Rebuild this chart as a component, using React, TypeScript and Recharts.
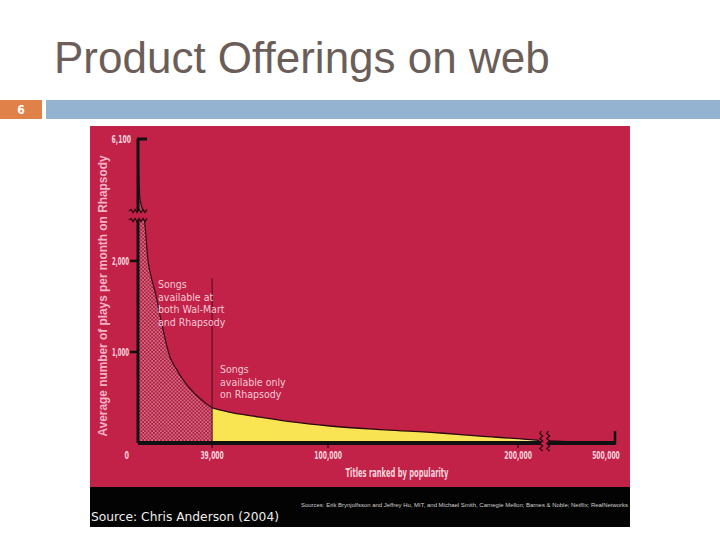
import React from 'react';
import { ComposedChart, Area, XAxis, YAxis, ReferenceLine, ReferenceDot } from 'recharts';

// ---- data (ranks in thousands of titles, plays per month) ----
const bothRanksK = [0, 0.4, 1, 2, 3.5, 5.3, 7, 9, 12.6, 16.8, 20, 23, 29, 34, 39];
const bothPlays = [6100, 4300, 3100, 2650, 2430, 2000, 1820, 1660, 1300, 945, 820, 715, 560, 465, 385];
const onlyRanksK = [39, 50, 64, 80, 101, 130, 159, 180, 200, 211, 214, 222, 300, 400, 500];
const onlyPlays: (number | null)[] = [385, 330, 285, 235, 187, 145, 110, 75, 48, 28, null, 24, 16, 9, 3];
const xTickRanksK = [39, 100, 200, 500];
const xTickLabels = ['39,000', '100,000', '200,000', '500,000'];
const yTickPlays = [0, 1000, 2000, 6100];
const yTickLabels = ['0', '1,000', '2,000', '6,100'];
const sourceNote = 'Source: Chris Anderson (2004)';
const sourcesSmall = 'Sources: Erik Brynjolfsson and Jeffrey Hu, MIT, and Michael Smith, Carnegie Mellon; Barnes & Noble; Netflix; RealNetworks';

// ---- broken-axis mappings ----
const pu = (v: number) => (v <= 2450 ? v : 2550 + (v - 2450) * (790 / 3650));
const tx = (r: number) => (r <= 211.5 ? r : r >= 222 ? 216.5 + (r - 222) * (34.5 / 278) : 214);

const rowMap = new Map<number, any>();
const getRow = (x: number) => {
  if (!rowMap.has(x)) rowMap.set(x, { x, both: null, only: null });
  return rowMap.get(x);
};
bothRanksK.forEach((r, i) => { getRow(tx(r)).both = pu(bothPlays[i]); });
onlyRanksK.forEach((r, i) => { const v = onlyPlays[i]; getRow(tx(r)).only = v == null ? null : pu(v); });
const data = Array.from(rowMap.values()).sort((a, b) => a.x - b.x);

const xTickPos = xTickRanksK.map(tx);
const yTickPos = yTickPlays.map(pu);

const CRIMSON = '#c22248';
const PINK = '#f6d2db';
const NARROW = "'Liberation Sans Narrow', 'DejaVu Sans Condensed', 'Liberation Sans', sans-serif";
const SANS = "'Liberation Sans', Arial, sans-serif";

const labelWidth = (s: string) => {
  let w = 0;
  for (const c of s) w += c === ',' ? 1.8 : 3.9;
  return w;
};

const XTick = (p: any) => {
  const i = xTickPos.findIndex((v) => Math.abs(v - p.payload.value) < 1e-6);
  if (i < 0) return null;
  const lbl = xTickLabels[i];
  const axisY = p.y - 8;
  const isEnd = i === xTickPos.length - 1;
  return (
    <g>
      {isEnd ? (
        <line x1={p.x} x2={p.x} y1={axisY - 12} y2={axisY + 1.5} stroke="#111" strokeWidth={2.5} />
      ) : (
        <line x1={p.x} x2={p.x} y1={axisY} y2={axisY + 5} stroke="#2a0a10" strokeWidth={1.2} />
      )}
      <text
        x={isEnd ? p.x - 9 : p.x}
        y={p.y - 0.5}
        dy="0.75em"
        textAnchor="middle"
        fill={PINK}
        fontFamily={NARROW}
        fontWeight="bold"
        fontSize={11}
        textLength={labelWidth(lbl) * 1.1}
        lengthAdjust="spacingAndGlyphs"
      >
        {lbl}
      </text>
    </g>
  );
};

const YTick = (p: any) => {
  const i = yTickPos.findIndex((v) => Math.abs(v - p.payload.value) < 1e-6);
  if (i < 0) return null;
  const lbl = yTickLabels[i];
  const ax = p.x + 9;
  const isTop = i === yTickPos.length - 1;
  const isZero = i === 0;
  return (
    <g>
      {isTop && <line x1={ax - 1} x2={ax + 9} y1={p.y} y2={p.y} stroke="#111" strokeWidth={3} />}
      {!isTop && !isZero && <line x1={ax - 8} x2={ax} y1={p.y} y2={p.y} stroke="#111" strokeWidth={2.5} />}
      <text
        x={isTop ? p.x + 2 : p.x}
        y={isZero ? p.y + 12 : p.y}
        dy="0.36em"
        textAnchor="end"
        fill={PINK}
        fontFamily={NARROW}
        fontWeight="bold"
        fontSize={11}
        textLength={isZero ? 4.5 : isTop ? 19.5 : 17}
        lengthAdjust="spacingAndGlyphs"
      >
        {lbl}
      </text>
    </g>
  );
};

const zigH = (x0: number, x1: number, y: number) => {
  let d = `M${x0},${y}`;
  let up = true;
  for (let x = x0 + 2; x <= x1; x += 2) {
    d += ` L${x},${y + (up ? -1.6 : 1.6)}`;
    up = !up;
  }
  return d;
};
const zigV = (x: number, y0: number, y1: number) => {
  let d = `M${x},${y0}`;
  let left = true;
  for (let y = y0 + 2.5; y <= y1; y += 2.5) {
    d += ` L${x + (left ? -1.5 : 1.5)},${y}`;
    left = !left;
  }
  return d;
};

const YBreak = (p: any) => {
  const { cx, cy } = p;
  if (cx == null || cy == null) return null;
  return (
    <g>
      <rect x={cx - 12} y={cy - 4.5} width={26} height={9} fill={CRIMSON} />
      <path d={zigH(cx - 9, cx + 9, cy - 4.5)} stroke="#2a0a10" strokeWidth={1.2} fill="none" />
      <path d={zigH(cx - 9, cx + 9, cy + 4.5)} stroke="#2a0a10" strokeWidth={1.2} fill="none" />
    </g>
  );
};

const XBreak = (p: any) => {
  const { cx, cy } = p;
  if (cx == null || cy == null) return null;
  return (
    <g>
      <rect x={cx - 3.5} y={cy - 14} width={7} height={26} fill={CRIMSON} />
      <path d={zigV(cx - 3.5, cy - 12, cy + 10)} stroke="#2a0a10" strokeWidth={1.2} fill="none" />
      <path d={zigV(cx + 3.5, cy - 12, cy + 10)} stroke="#2a0a10" strokeWidth={1.2} fill="none" />
    </g>
  );
};

export default function App() {
  return (
    <div style={{ position: 'absolute', left: 0, top: 0, width: 720, height: 540, background: '#fff', overflow: 'hidden' }}>
      {/* slide header bars */}
      <div style={{ position: 'absolute', left: 0, top: 100, width: 42, height: 19, background: '#e0814a' }} />
      <div style={{ position: 'absolute', left: 46, top: 100, width: 674, height: 19, background: '#94b3d0' }} />
      {/* chart panel */}
      <div style={{ position: 'absolute', left: 90, top: 126, width: 540, height: 361, background: CRIMSON }}>
        <ComposedChart width={540} height={361} data={data} margin={{ top: 13, right: 15, left: 8, bottom: 14 }} style={{ overflow: 'visible' }}>
          <defs>
            <pattern id="stipple" width={3.6} height={3.6} patternUnits="userSpaceOnUse">
              <rect width={3.6} height={3.6} fill="#b01b3e" />
              <circle cx={0.9} cy={0.9} r={0.75} fill="#f9d3dc" />
              <circle cx={2.7} cy={2.7} r={0.75} fill="#f9d3dc" />
            </pattern>
            <linearGradient id="yellowFill" x1="0" y1="0" x2="1" y2="0">
              <stop offset="0" stopColor="#f9e452" />
              <stop offset="0.74" stopColor="#f8e454" />
              <stop offset="0.81" stopColor="#f7efc6" />
              <stop offset="0.84" stopColor="#e9d58a" />
              <stop offset="0.94" stopColor="#6b3a2a" />
              <stop offset="1" stopColor="#1a0508" />
            </linearGradient>
          </defs>
          <XAxis
            dataKey="x"
            type="number"
            domain={[0, tx(500)]}
            ticks={xTickPos}
            interval={0}
            height={30}
            tickSize={0}
            tickMargin={8}
            tickLine={false}
            axisLine={{ stroke: '#111', strokeWidth: 4 }}
            tick={<XTick />}
          />
          <YAxis
            type="number"
            domain={[0, pu(6100)]}
            ticks={yTickPos}
            interval={0}
            width={40}
            tickSize={0}
            tickMargin={9}
            tickLine={false}
            axisLine={{ stroke: '#111', strokeWidth: 3 }}
            tick={<YTick />}
          />
          <Area
            dataKey="both"
            type="monotone"
            stroke="#3a0b16"
            strokeWidth={1.2}
            fill="url(#stipple)"
            fillOpacity={1}
            connectNulls={false}
            isAnimationActive={false}
            dot={false}
            activeDot={false}
          />
          <Area
            dataKey="only"
            type="monotone"
            stroke="#2a0810"
            strokeWidth={1.3}
            fill="url(#yellowFill)"
            fillOpacity={1}
            connectNulls={false}
            isAnimationActive={false}
            dot={false}
            activeDot={false}
          />
          <ReferenceLine
            segment={[{ x: tx(39), y: 0 }, { x: tx(39), y: pu(1810) }]}
            stroke="#4a0f1c"
            strokeWidth={1}
          />
          <ReferenceDot x={0} y={2500} r={0} shape={<YBreak />} />
          <ReferenceDot x={214} y={0} r={0} shape={<XBreak />} />
        </ComposedChart>
      </div>
      {/* black source strip */}
      <div style={{ position: 'absolute', left: 90, top: 487, width: 540, height: 40, background: '#030303' }} />
      {/* overlay texts */}
      <svg width={720} height={540} style={{ position: 'absolute', left: 0, top: 0, pointerEvents: 'none' }}>
        <text x={54} y={72.7} fontFamily={SANS} fontSize={44} fill="#6b5e59">Product Offerings on web</text>
        <text x={21} y={113.5} textAnchor="middle" fontFamily={NARROW} fontSize={12} fontWeight="bold" fill="#fff">6</text>
        <text
          transform="translate(107,296) rotate(-90)"
          textAnchor="middle"
          fontFamily={SANS}
          fontWeight="bold"
          fontSize={12}
          fill="#f2b3c4"
          textLength={281}
          lengthAdjust="spacingAndGlyphs"
        >
          Average number of plays per month on Rhapsody
        </text>
        <text x={397} y={476.5} textAnchor="middle" fontFamily={NARROW} fontWeight="bold" fontSize={12.5} fill={PINK} textLength={103} lengthAdjust="spacingAndGlyphs">
          Titles ranked by popularity
        </text>
        <g fontFamily={NARROW} fontSize={10.5} fill="#f6c8d4">
          <text x={158} y={288}>Songs</text>
          <text x={158} y={300.5}>available at</text>
          <text x={158} y={313}>both Wal-Mart</text>
          <text x={158} y={325.5}>and Rhapsody</text>
          <text x={220} y={373}>Songs</text>
          <text x={220} y={385.5}>available only</text>
          <text x={220} y={398}>on Rhapsody</text>
        </g>
        <text x={301} y={506.5} fontFamily={SANS} fontSize={5.6} fill="#cfcfcf" textLength={327} lengthAdjust="spacingAndGlyphs">
          {sourcesSmall}
        </text>
        <text x={91} y={520.5} fontFamily="'DejaVu Sans', sans-serif" fontSize={12.5} fill="#eeeeee" textLength={188} lengthAdjust="spacingAndGlyphs">
          {sourceNote}
        </text>
      </svg>
    </div>
  );
}
